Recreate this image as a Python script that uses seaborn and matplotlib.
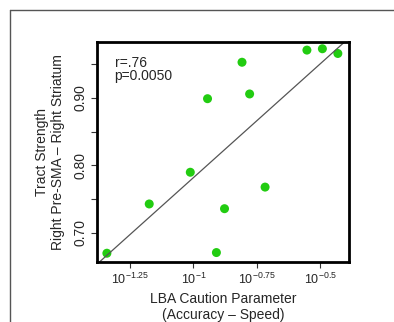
import numpy as np
import pandas as pd
import matplotlib
matplotlib.use('Agg')
import matplotlib.pyplot as plt
from matplotlib.lines import Line2D
import seaborn as sns

# log10 of LBA caution parameter (accuracy - speed)
log_caution = [-1.341, -1.174, -1.012, -0.944, -0.909, -0.877,
               -0.808, -0.778, -0.717, -0.552, -0.491, -0.430]
tract_strength = [0.670, 0.743, 0.790, 0.899, 0.671, 0.736,
                  0.953, 0.906, 0.768, 0.971, 0.973, 0.966]
x_ticks = [-1.25, -1.0, -0.75, -0.5]
x_tick_labels = [r'$10^{-1.25}$', r'$10^{-1}$', r'$10^{-0.75}$', r'$10^{-0.5}$']
y_ticks = [0.70, 0.75, 0.80, 0.85, 0.90, 0.95]
y_tick_labels = ['0.70', '', '0.80', '', '0.90', '']

df = pd.DataFrame({'caution': log_caution, 'tract': tract_strength})

sns.set_style('white')
plt.rcParams['font.family'] = ['Liberation Sans', 'DejaVu Sans']
plt.rcParams['mathtext.fontset'] = 'custom'
plt.rcParams['mathtext.rm'] = 'Liberation Sans'
plt.rcParams['mathtext.it'] = 'Liberation Sans'

fig = plt.figure(figsize=(3.94, 3.22), dpi=100)
ax = fig.add_axes([97 / 394, 1 - 262 / 322, 252 / 394, 220 / 322])

sns.regplot(data=df, x='caution', y='tract', ax=ax, ci=None, truncate=False,
            scatter_kws=dict(color='#22cc11', s=42, edgecolor='none', alpha=1),
            line_kws=dict(color='#555555', linewidth=0.9))

ax.set_xlim(-1.38, -0.386)
ax.set_ylim(0.657, 0.983)
ax.set_xticks(x_ticks)
ax.set_xticklabels(x_tick_labels, fontsize=9)
ax.set_yticks(y_ticks)
ax.set_yticklabels(y_tick_labels, fontsize=10, rotation=90, va='center')
ax.tick_params(direction='out', length=4, width=0.8, color='#333333',
               bottom=True, left=True, pad=3)
for sp in ax.spines.values():
    sp.set_linewidth(2)
    sp.set_color('black')

ax.set_xlabel('LBA Caution Parameter\n(Accuracy \u2013 Speed)', fontsize=10,
              linespacing=1.15, labelpad=4)
ax.set_ylabel('Tract Strength\nRight Pre-SMA \u2013 Right Striatum', fontsize=10,
              linespacing=1.15, labelpad=6)

ax.text(0.07, 0.935, 'r=.76\np=0.0050', transform=ax.transAxes, fontsize=10,
        va='top', ha='left', linespacing=0.85)

# outer panel frame
fig.add_artist(Line2D([10 / 394, 10 / 394], [0, 1 - 10 / 322], color='#555555', linewidth=1))
fig.add_artist(Line2D([10 / 394, 1], [1 - 10 / 322, 1 - 10 / 322], color='#555555', linewidth=1))

fig.savefig('out.png', dpi=100)
